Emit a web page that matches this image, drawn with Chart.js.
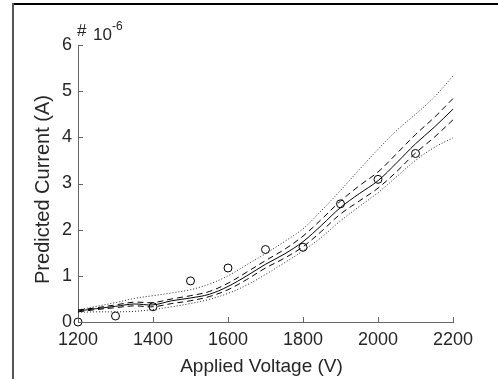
<!DOCTYPE html>
<html>
<head>
<meta charset="utf-8">
<script src="https://cdn.jsdelivr.net/npm/chart.js@4/dist/chart.umd.min.js"></script>
<style>
html, body { margin: 0; padding: 0; background: #fff; overflow: hidden; }
canvas { display: block; }
</style>
</head>
<body>
<canvas id="ivChart" width="498" height="379"></canvas>
<script>
// --- model prediction (units of 1e-6 A) ---
const voltage    = [1200, 1250, 1300, 1350, 1400, 1450, 1500, 1550, 1600, 1650, 1700, 1750, 1800, 1850, 1900, 1950, 2000, 2050, 2100, 2150, 2200];
const meanPred   = [0.24, 0.29, 0.34, 0.39, 0.37, 0.46, 0.52, 0.60, 0.77, 1.00, 1.25, 1.47, 1.74, 2.10, 2.48, 2.78, 3.06, 3.45, 3.86, 4.22, 4.61];
const upperInner = [0.26, 0.31, 0.37, 0.43, 0.42, 0.50, 0.57, 0.66, 0.84, 1.08, 1.33, 1.57, 1.86, 2.23, 2.62, 2.95, 3.25, 3.65, 4.06, 4.43, 4.84];
const lowerInner = [0.22, 0.27, 0.31, 0.35, 0.33, 0.40, 0.46, 0.55, 0.70, 0.92, 1.17, 1.38, 1.63, 1.97, 2.34, 2.62, 2.90, 3.26, 3.66, 4.00, 4.38];
const upperOuter = [0.26, 0.34, 0.42, 0.51, 0.57, 0.63, 0.70, 0.82, 1.00, 1.24, 1.48, 1.74, 2.02, 2.42, 2.85, 3.30, 3.74, 4.15, 4.50, 4.87, 5.33];
const lowerOuter = [0.21, 0.22, 0.22, 0.23, 0.27, 0.33, 0.40, 0.49, 0.62, 0.80, 1.03, 1.28, 1.54, 1.84, 2.19, 2.50, 2.80, 3.15, 3.50, 3.78, 3.99];

// --- measurements ---
const measVoltage = [1200, 1300, 1400, 1500, 1600, 1700, 1800, 1900, 2000, 2100];
const measCurrent = [0.00, 0.13, 0.33, 0.89, 1.17, 1.57, 1.62, 2.56, 3.09, 3.65];

const xTicks = [1200, 1400, 1600, 1800, 2000, 2200];
const yTicks = [0, 1, 2, 3, 4, 5, 6];
const xLabel = 'Applied Voltage (V)';
const yLabel = 'Predicted Current (A)';

const FONT = '"Liberation Sans", Arial, Helvetica, sans-serif';
const TXT = '#262626';

const pts = (xs, ys) => xs.map((x, i) => ({ x: x, y: ys[i] }));

function lineSet(ys, dash, color) {
    return {
        type: 'line',
        data: pts(voltage, ys),
        borderColor: color,
        borderWidth: 1,
        borderDash: dash,
        pointRadius: 0,
        tension: 0.35,
        fill: false,
        clip: false
    };
}

// figure frame, inward tick marks, axis labels and exponent
const matlabBits = {
    id: 'matlabBits',
    beforeDraw(chart) {
        const ctx = chart.ctx;
        ctx.save();
        ctx.fillStyle = '#fff';
        ctx.fillRect(0, 0, chart.width, chart.height);
        ctx.fillStyle = '#000';
        ctx.fillRect(12, 3, chart.width - 12, 2);
        ctx.fillStyle = '#555';
        ctx.fillRect(12, 3, 2, chart.height - 3);
        ctx.restore();
    },
    afterDraw(chart) {
        const ctx = chart.ctx;
        const a = chart.chartArea;
        const xs = chart.scales.x, ys = chart.scales.y;
        ctx.save();
        ctx.strokeStyle = '#666';
        ctx.lineWidth = 1;
        ctx.beginPath();
        xTicks.forEach(v => {
            const px = Math.round(xs.getPixelForValue(v)) + 0.5;
            ctx.moveTo(px, a.bottom);
            ctx.lineTo(px, a.bottom - 5);
        });
        yTicks.forEach(v => {
            const py = Math.round(ys.getPixelForValue(v)) + 0.5;
            ctx.moveTo(a.left, py);
            ctx.lineTo(a.left + 5, py);
        });
        ctx.stroke();

        ctx.fillStyle = TXT;
        ctx.textAlign = 'center';
        ctx.textBaseline = 'alphabetic';
        ctx.font = '19px ' + FONT;
        ctx.fillText(xLabel, (a.left + a.right) / 2 - 4, a.bottom + 50);
        ctx.save();
        ctx.translate(a.left - 29, (a.top + a.bottom) / 2 + 6);
        ctx.rotate(-Math.PI / 2);
        ctx.font = '20px ' + FONT;
        ctx.fillText(yLabel, 0, 0);
        ctx.restore();

        ctx.textAlign = 'left';
        ctx.font = '17px ' + FONT;
        ctx.fillText('#', a.left - 1, a.top - 9);
        ctx.font = '17px ' + FONT;
        ctx.fillText('10', a.left + 15, a.top - 5);
        ctx.font = '12px ' + FONT;
        ctx.fillText('-6', a.left + 34, a.top - 15);
        ctx.restore();
    }
};

const ctx = document.getElementById('ivChart').getContext('2d');
Chart.defaults.font.family = FONT;
Chart.defaults.color = TXT;

new Chart(ctx, {
    type: 'line',
    data: {
        datasets: [
            lineSet(upperOuter, [1, 2], '#222'),
            lineSet(lowerOuter, [1, 2], '#222'),
            lineSet(upperInner, [6, 4], '#000'),
            lineSet(lowerInner, [6, 4], '#000'),
            lineSet(meanPred, [], '#000'),
            {
                type: 'scatter',
                data: pts(measVoltage, measCurrent),
                pointStyle: 'circle',
                pointRadius: 4,
                pointBorderWidth: 1,
                pointBorderColor: '#000',
                pointBackgroundColor: 'rgba(0,0,0,0)',
                showLine: false,
                clip: false
            }
        ]
    },
    options: {
        responsive: false,
        animation: false,
        layout: { padding: { left: 27, top: 45, right: 45, bottom: 0 } },
        plugins: { legend: { display: false }, tooltip: { enabled: false } },
        scales: {
            x: {
                type: 'linear',
                min: 1200, max: 2200,
                afterFit: s => { s.height = 57; },
                afterBuildTicks: s => { s.ticks = xTicks.map(v => ({ value: v })); },
                grid: { drawOnChartArea: false, drawTicks: false },
                border: { display: true, color: '#666', width: 1 },
                ticks: { font: { size: 18 }, color: TXT, padding: 7, maxRotation: 0, callback: v => String(v) }
            },
            y: {
                type: 'linear',
                min: 0, max: 6,
                afterFit: s => { s.width = 51; },
                afterBuildTicks: s => { s.ticks = yTicks.map(v => ({ value: v })); },
                grid: { drawOnChartArea: false, drawTicks: false },
                border: { display: true, color: '#666', width: 1 },
                ticks: { font: { size: 18 }, color: TXT, padding: 6, callback: v => String(v) }
            }
        }
    },
    plugins: [matlabBits]
});
</script>
</body>
</html>
